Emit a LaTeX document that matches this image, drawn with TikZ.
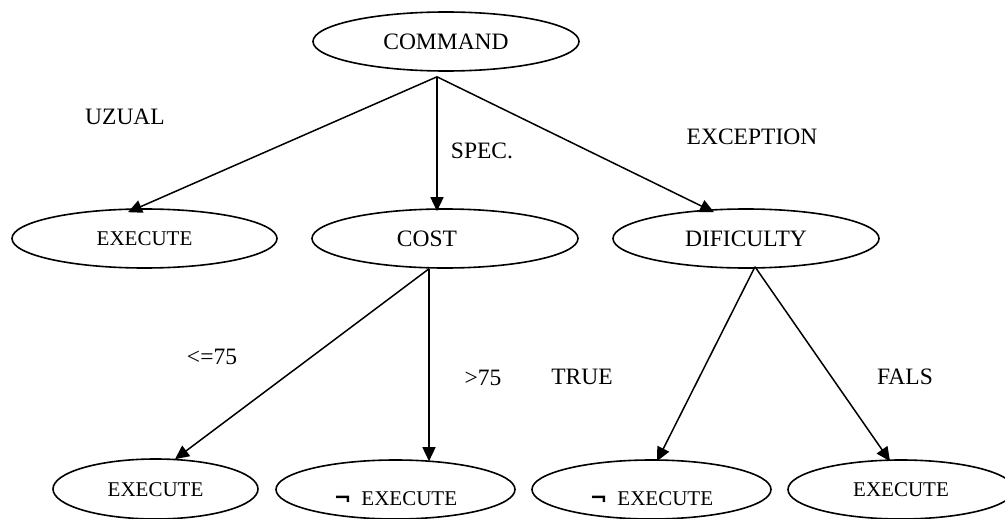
\documentclass[tikz,border=0pt]{standalone}
\usepackage{fontspec}
\setmainfont{Liberation Serif}
\newfontfamily\notfont{DejaVu Sans}
\usetikzlibrary{shapes.geometric,arrows.meta}
\begin{document}
\begin{tikzpicture}[x=1pt,y=-1pt,
  oval/.style={ellipse,draw,line width=1.6pt,inner sep=0pt,minimum height=59pt,
    font=\fontsize{23.5}{28}\selectfont,text height=15.5pt,text depth=0pt},
  small/.style={font=\fontsize{21}{25}\selectfont,text height=14pt},
  lbl/.style={inner sep=0pt,font=\fontsize{23.5}{28}\selectfont},
  arr/.style={line width=1.5pt,-{Triangle[length=14pt,width=13pt]}}]
\clip (0,0) rectangle (1005,519);
% nodes
\node[oval,minimum width=266pt] (cmd) at (446,41.5) {COMMAND};
\node[oval,small,minimum width=265pt] (exA) at (144.5,238.5) {EXECUTE};
\node[oval,minimum width=266pt] (cost) at (445,238.5) {COST\hspace*{36pt}};
\node[oval,minimum width=266pt] (dif) at (746,238.5) {DIFICULTY};
\node[oval,small,minimum width=205pt,minimum height=60pt] (ex1) at (155.5,489) {EXECUTE};
\node[oval,small,minimum width=239pt] (nex1) at (395.5,489.5) {\raisebox{-9pt}{{\notfont\bfseries ¬}\hspace{10pt}EXECUTE}};
\node[oval,small,minimum width=239pt] (nex2) at (651.5,489.5) {\raisebox{-9pt}{{\notfont\bfseries ¬}\hspace{10pt}EXECUTE}};
\node[oval,small,minimum width=226pt] (ex2) at (901,489.5) {EXECUTE};
% labels
\node[lbl] (l1) at (125,117) {UZUAL};
\node[lbl] (l2) at (482,151) {SPEC.};
\node[lbl] (l3) at (752,137) {EXCEPTION};
\node[lbl] (l4) at (212,357) {<=75};
\node[lbl] (l5) at (483,378) {>75};
\node[lbl] (l6) at (582,377) {TRUE};
\node[lbl] (l7) at (905,377) {FALS};
% connectors
\coordinate (cs) at ([xshift=-9pt,yshift=-5pt]cmd.south);
\draw[arr] (cs) -- ([xshift=-16.5pt,yshift=-4pt]exA.north);
\draw[arr] (cs) -- ([xshift=-8pt,yshift=-3pt]cost.north);
\draw[arr] (cs) -- ([xshift=-32pt,yshift=-4pt]dif.north);
\coordinate (co) at ([xshift=-16pt]cost.south);
\draw[arr] (co) -- ([xshift=19.5pt,yshift=-1pt]ex1.north);
\draw[arr] (co) -- ([xshift=33.5pt,yshift=-2pt]nex1.north);
\coordinate (di) at ([xshift=9pt,yshift=2pt]dif.south);
\draw[arr] (di) -- ([xshift=5.5pt,yshift=-2pt]nex2.north);
\draw[arr] (di) -- ([xshift=-11pt,yshift=-2pt]ex2.north);
\end{tikzpicture}
\end{document}
